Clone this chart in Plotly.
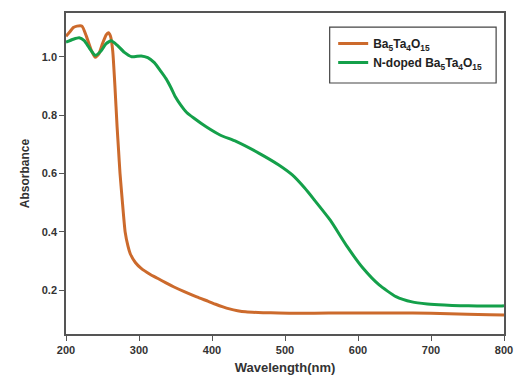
import plotly.graph_objects as go

wl_bto = [200, 205, 210, 215, 222, 228, 235, 240, 245, 250, 255, 258, 261, 264, 267, 270, 272,
          274, 277, 281, 285, 288, 295, 303, 315, 326, 337, 348, 362, 379, 395, 405, 415, 424,
          435, 446, 470, 491, 520, 560, 600, 650, 700, 750, 780, 800]
ab_bto = [1.07, 1.085, 1.10, 1.105, 1.105, 1.07, 1.02, 0.998, 1.01, 1.045, 1.075, 1.082, 1.07, 1.02,
          0.90, 0.76, 0.68, 0.60, 0.51, 0.40, 0.35, 0.325, 0.295, 0.275, 0.255, 0.24, 0.225, 0.211,
          0.195, 0.177, 0.162, 0.152, 0.143, 0.136, 0.130, 0.126, 0.123, 0.122, 0.121, 0.122,
          0.122, 0.122, 0.121, 0.118, 0.116, 0.115]

wl_n = [200, 210, 218, 225, 232, 240, 248, 255, 262, 270, 280, 290, 303, 312, 321, 330, 337,
        344, 350, 357, 365, 375, 392, 411, 433, 464, 491, 510, 527, 540, 562, 585, 607, 629,
        652, 674, 695, 718, 740, 763, 780, 796, 800]
ab_n = [1.05, 1.06, 1.065, 1.055, 1.03, 1.005, 1.02, 1.045, 1.055, 1.04, 1.015, 1.0, 1.003,
        0.997, 0.98, 0.95, 0.925, 0.893, 0.862, 0.835, 0.81, 0.79, 0.76, 0.732, 0.71, 0.67,
        0.63, 0.595, 0.55, 0.51, 0.44, 0.35, 0.275, 0.218, 0.178, 0.16, 0.153, 0.149, 0.147,
        0.146, 0.146, 0.146, 0.147]

x_ticks = [200, 300, 400, 500, 600, 700, 800]
y_ticks = [0.2, 0.4, 0.6, 0.8, 1.0]

fig = go.Figure()
fig.add_trace(go.Scatter(x=wl_bto, y=ab_bto, mode="lines",
                         name="<b>Ba<sub>5</sub>Ta<sub>4</sub>O<sub>15</sub></b>",
                         line=dict(color="#CC6A2C", width=3, shape="spline", smoothing=0.5)))
fig.add_trace(go.Scatter(x=wl_n, y=ab_n, mode="lines",
                         name="<b>N-doped Ba<sub>5</sub>Ta<sub>4</sub>O<sub>15</sub></b>",
                         line=dict(color="#14A04A", width=3, shape="spline", smoothing=0.5)))

axis_font = dict(family="Liberation Sans, Arial", size=11, color="#333333")
fig.update_layout(
    width=523, height=388,
    margin=dict(l=66, r=10, t=13, b=54),
    paper_bgcolor="white", plot_bgcolor="white",
    font=dict(family="Liberation Sans, Arial", color="#333333"),
    showlegend=True,
    legend=dict(x=0.610, y=0.950, xanchor="left", yanchor="top",
                borderwidth=0, bgcolor="rgba(0,0,0,0)",
                font=dict(family="Liberation Sans, Arial", size=12, color="#222222"),
                tracegroupgap=0, itemwidth=30),
    shapes=[dict(type="rect", xref="paper", yref="paper", x0=0.602, x1=0.982, y0=0.782, y1=0.956,
                 line=dict(color="#444444", width=1.2), fillcolor="rgba(0,0,0,0)", layer="above")],
    xaxis=dict(range=[200, 800], tickvals=x_ticks, ticktext=[f"<b>{v}</b>" for v in x_ticks],
               ticks="outside", ticklen=5, tickwidth=1.2, tickcolor="#555555",
               showline=True, linecolor="#555555", linewidth=1.5, mirror=True,
               showgrid=False, zeroline=False, tickfont=axis_font,
               title=dict(text="<b>Wavelength(nm)</b>", font=dict(family="Liberation Sans, Arial", size=13, color="#333333"), standoff=8)),
    yaxis=dict(range=[0.05, 1.15], tickvals=y_ticks, ticktext=[f"<b>{v:.1f}</b>" for v in y_ticks],
               ticks="outside", ticklen=5, tickwidth=1.2, tickcolor="#555555",
               showline=True, linecolor="#555555", linewidth=1.5, mirror=True,
               showgrid=False, zeroline=False, tickfont=axis_font,
               title=dict(text="<b>Absorbance</b>", font=dict(family="Liberation Sans, Arial", size=12, color="#333333"), standoff=10)),
)
fig.write_html("out.html")
